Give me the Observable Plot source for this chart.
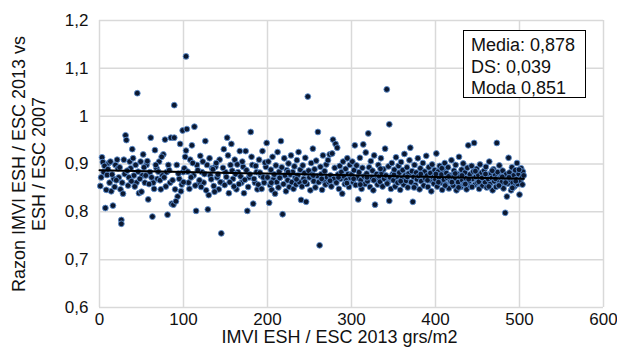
<!DOCTYPE html>
<html><head><meta charset="utf-8">
<script src="https://cdn.jsdelivr.net/npm/d3@7"></script>
<script src="https://cdn.jsdelivr.net/npm/@observablehq/plot@0.6"></script>
<style>
body{margin:0;background:#fff;}
#wrap{position:relative;width:617px;height:348px;font-family:"Liberation Sans",Arial,Helvetica,sans-serif;}
#legend{position:absolute;left:463px;top:30px;width:121px;height:66px;border:1.5px solid #000;background:#fff;}
#legend div{position:absolute;left:7px;font-size:18px;line-height:20px;color:#111;white-space:nowrap;}
</style>
</head><body><div id="wrap"></div>
<script>
// Axis ticks
const xTicks = [0, 100, 200, 300, 400, 500, 600];
const yTicks = [0.6, 0.7, 0.8, 0.9, 1.0, 1.1, 1.2];
const xTitle = "IMVI ESH / ESC 2013 grs/m2";
const yTitle = "Razon IMVI ESH / ESC 2013 vs\nESH / ESC 2007";
const legendLines = ["Media: 0,878", "DS: 0,039", "Moda 0,851"];

// Scatter values (IMVI, ratio) by x segment
const imvi0 = [1,3,4,5,7,9,11,12,14,16,17,19,21,22,23,25,26,26,27,29,30,31,32,34,36,37,39,41,43,45,44,47,49,51,52,54,56,58,60,61,63,64,66,68,69,71,73,75,76,78,80,81,82,84,85,86,88,89,89,90,92,93,95,96,97,99,99.5,
  2,6,8,10,13,15,18,20,24,28,33,35,38,40,42,46,48,50,53,55,57,59,62,65,67,70,72,74,77,79,83,87,91,94,98];
const razon0 = [0.854,0.914,0.904,0.883,0.808,0.877,0.902,0.861,0.843,0.813,0.869,0.898,0.909,0.891,0.872,0.847,0.783,0.775,0.861,0.909,0.879,0.960,0.950,0.855,0.905,0.891,0.931,0.876,0.898,1.048,0.861,0.839,0.905,0.876,0.920,0.861,0.898,0.826,0.883,0.955,0.790,0.861,0.929,0.891,0.869,0.905,0.847,0.876,0.920,0.951,0.883,0.794,0.898,0.861,0.955,0.817,0.815,1.023,0.955,0.847,0.898,0.832,0.869,0.942,0.843,0.970,0.883,
  0.872,0.896,0.846,0.889,0.905,0.878,0.852,0.866,0.893,0.838,0.886,0.872,0.864,0.912,0.853,0.884,0.869,0.842,0.893,0.876,0.906,0.858,0.872,0.848,0.898,0.884,0.866,0.915,0.872,0.853,0.887,0.866,0.822,0.880,0.857];

const imvi1 = [103,104,101,103,106,108,110,112,113,115,116,118,120,122,124,126,128,129,130,132,134,136,138,140,142,143,145,146,148,150,152,154,156,157,159,161,163,165,167,169,171,172,174,176,178,180,182,183,185,187,188,190,192,194,196,198,199,
  100,102,105,107,109,111,114,117,119,121,123,125,127,131,133,135,137,139,141,144,147,149,151,153,155,158,160,162,164,166,168,170,173,175,177,179,181,184,186,189,191,193,195,197];
const razon1 = [1.125,0.973,0.891,0.928,0.861,0.909,0.939,0.876,0.978,0.802,0.898,0.858,0.917,0.883,0.861,0.948,0.898,0.805,0.835,0.876,0.891,0.854,0.894,0.872,0.847,0.909,0.755,0.861,0.931,0.883,0.955,0.839,0.898,0.942,0.869,0.909,0.847,0.883,0.927,0.861,0.894,0.839,0.927,0.802,0.872,0.967,0.898,0.817,0.861,0.883,0.847,0.909,0.876,0.927,0.861,0.894,0.944,
  0.862,0.915,0.884,0.848,0.872,0.902,0.855,0.887,0.866,0.852,0.905,0.879,0.845,0.912,0.868,0.889,0.842,0.902,0.878,0.862,0.892,0.856,0.873,0.918,0.862,0.886,0.853,0.879,0.899,0.858,0.874,0.905,0.867,0.887,0.852,0.878,0.915,0.869,0.896,0.857,0.882,0.848,0.872,0.903];

const imvi2 = [202,216,218,240,246,248,260,262,278,281,
  200,201,203,204,205,206,207,208,209,210,211,212,213,214,215,217,219,220,221,222,223,224,225,226,227,228,229,230,231,232,233,234,235,236,237,238,239,241,242,243,244,245,247,249,250,251,252,253,254,255,256,257,258,259,261,263,264,265,266,267,268,269,270,271,272,273,274,275,276,277,279,280,282,283,284,285,286,287,288,289,290,291,292,293,294,295,296,297,298,299,
  204.5,214.5,224.5,234.5,244.5,254.5,264.5,274.5,284.5,294.5];
const razon2 = [0.819,0.948,0.795,0.825,0.821,1.041,0.967,0.730,0.951,0.942,
  0.872,0.905,0.856,0.888,0.846,0.915,0.868,0.878,0.838,0.897,0.862,0.925,0.851,0.884,0.872,0.893,0.858,0.912,0.876,0.843,0.887,0.866,0.901,0.852,0.878,0.918,0.862,0.883,0.848,0.895,0.871,0.857,0.908,0.876,0.925,0.862,0.888,0.853,0.897,0.869,0.881,0.913,0.858,0.886,0.872,0.845,0.902,0.878,0.932,0.864,0.889,0.851,0.907,0.875,0.862,0.894,0.879,0.846,0.918,0.866,0.885,0.857,0.899,0.872,0.908,0.862,0.920,0.876,0.853,0.922,0.869,0.892,0.861,0.934,0.878,0.848,0.896,0.869,0.883,0.838,0.905,0.874,0.858,0.890,0.866,0.912,0.879,0.852,0.898,0.871,
  0.861,0.871,0.883,0.868,0.863,0.876,0.869,0.865,0.872,0.860];

const imvi3 = [308,320,328,342,345,345,304,314,370,373,
  300,301,302,303,305,306,307,309,310,311,312,313,315,316,317,318,319,321,322,323,324,325,326,327,329,330,331,332,333,334,335,336,337,338,339,340,341,343,344,346,347,348,349,350,351,352,353,354,355,356,357,358,359,360,361,362,363,364,365,366,367,368,369,371,372,374,375,376,377,378,379,380,381,382,383,384,385,386,387,388,389,390,391,392,393,394,395,396,397,398,399,
  302.5,310.5,318.5,326.5,334.5,342.5,350.5,358.5,366.5,374.5,382.5,390.5,398.5];
const razon3 = [0.826,0.964,0.815,1.056,0.983,0.823,0.939,0.941,0.934,0.821,
  0.878,0.905,0.862,0.887,0.856,0.897,0.871,0.883,0.913,0.866,0.848,0.892,0.874,0.858,0.924,0.880,0.864,0.893,0.852,0.906,0.872,0.886,0.845,0.918,0.868,0.879,0.857,0.898,0.874,0.863,0.912,0.881,0.853,0.889,0.869,0.932,0.876,0.861,0.895,0.872,0.848,0.902,0.879,0.866,0.888,0.853,0.914,0.874,0.861,0.896,0.882,0.846,0.904,0.869,0.887,0.857,0.921,0.876,0.865,0.893,0.851,0.880,0.908,0.862,0.885,0.873,0.898,0.856,0.882,0.868,0.912,0.875,0.847,0.891,0.864,0.878,0.902,0.855,0.884,0.869,0.917,0.876,0.852,0.893,0.866,0.881,0.843,0.899,0.872,0.859,0.887,
  0.869,0.857,0.872,0.866,0.890,0.859,0.877,0.864,0.873,0.851,0.879,0.866,0.874];

const imvi4 = [401,439,446,473,483,487,485,500,
  400,402,403,404,405,406,407,408,409,410,411,412,413,414,415,416,417,418,419,420,421,422,423,424,425,426,427,428,429,430,431,432,433,434,435,436,437,438,440,441,442,443,444,445,447,448,449,450,451,452,453,454,455,456,457,458,459,460,461,462,463,464,465,466,467,468,469,470,471,472,474,475,476,477,478,479,480,481,482,484,486,488,489,490,491,492,493,494,495,496,497,498,499,501,502,503,504,505,503.5,
  400.5,403.5,407.5,411.5,415.5,419.5,423.5,427.5,431.5,435.5,439.5,443.5,447.5,451.5,455.5,459.5,463.5,467.5,471.5,475.5,479.5,483.5,487.5,491.5,495.5,499.5];
const razon4 = [0.922,0.939,0.944,0.944,0.798,0.913,0.832,0.836,
  0.868,0.853,0.884,0.872,0.896,0.861,0.878,0.846,0.889,0.867,0.902,0.857,0.881,0.871,0.893,0.849,0.876,0.864,0.908,0.872,0.855,0.886,0.867,0.898,0.845,0.879,0.862,0.915,0.874,0.852,0.888,0.866,0.901,0.858,0.882,0.870,0.847,0.892,0.864,0.878,0.853,0.896,0.869,0.884,0.857,0.873,0.890,0.861,0.877,0.848,0.899,0.866,0.882,0.855,0.871,0.886,0.862,0.894,0.851,0.876,0.868,0.905,0.858,0.881,0.871,0.845,0.889,0.864,0.877,0.852,0.883,0.866,0.897,0.856,0.874,0.862,0.886,0.849,0.871,0.878,0.859,0.882,0.867,0.845,0.893,0.861,0.876,0.853,0.887,0.868,0.902,0.858,0.879,0.865,0.891,0.872,0.884,0.876,0.857,
  0.879,0.862,0.891,0.855,0.874,0.862,0.880,0.851,0.876,0.858,0.868,0.852,0.885,0.863,0.871,0.879,0.853,0.886,0.869,0.855,0.873,0.861,0.872,0.850,0.864,0.888];

// Trend line endpoints
const trendX = [0, 505];
const trendY = [0.887, 0.869];

const xs = [...imvi0, ...imvi1, ...imvi2, ...imvi3, ...imvi4];
const ys = [...razon0, ...razon1, ...razon2, ...razon3, ...razon4];
const points = xs.map((x, i) => ({x, y: ys[i]}));
const trend = trendX.map((x, i) => ({x, y: trendY[i]}));

const fmt = d => String(+d.toFixed(1)).replace(".", ",");
const gridStyle = {stroke: "#d9d9d9", strokeOpacity: 1, strokeWidth: 1.5};

const chart = Plot.plot({
  width: 617, height: 348,
  marginLeft: 99, marginRight: 14, marginTop: 20, marginBottom: 41,
  style: {fontFamily: "'Liberation Sans', Arial, Helvetica, sans-serif", fontSize: "17px", color: "#111", background: "#fff"},
  x: {domain: [0, 600]},
  y: {domain: [0.6, 1.2]},
  marks: [
    Plot.gridX(xTicks, gridStyle),
    Plot.gridY(yTicks, gridStyle),
    Plot.axisX(xTicks, {tickSize: 0, tickPadding: 5, fontSize: 17, label: null, tickFormat: d => String(d)}),
    Plot.axisY(yTicks, {tickSize: 0, tickPadding: 11, fontSize: 17, label: null, tickFormat: fmt}),
    Plot.dot(points, {x: "x", y: "y", r: 2.9, fill: "#0b1830", stroke: "#5b8dcf", strokeWidth: 0.9}),
    Plot.line(trend, {x: "x", y: "y", stroke: "#000", strokeWidth: 2}),
    Plot.text([xTitle], {frameAnchor: "bottom", dy: 30, dx: -12, lineAnchor: "middle", textAnchor: "middle", fontSize: 18, fill: "#111", text: d => d}),
    Plot.text([yTitle], {frameAnchor: "left", dx: -71, rotate: -90, lineAnchor: "middle", textAnchor: "middle", lineHeight: 1.12, fontSize: 18, fill: "#111", text: d => d})
  ]
});
const wrap = document.getElementById("wrap");
wrap.appendChild(chart);
const leg = document.createElement("div");
leg.id = "legend";
legendLines.forEach((t, i) => {
  const d = document.createElement("div");
  d.textContent = t;
  d.style.top = (4 + i * 21.5) + "px";
  leg.appendChild(d);
});
wrap.appendChild(leg);
</script>
</body></html>
